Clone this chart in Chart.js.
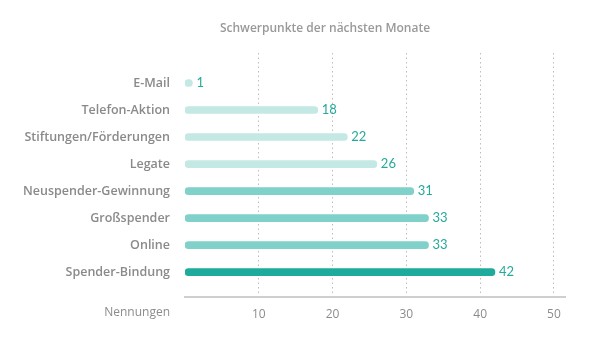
<!DOCTYPE html>
<html><head><meta charset="utf-8">
<script src="https://cdn.jsdelivr.net/npm/chart.js@4/dist/chart.umd.min.js"></script>
<style>html,body{margin:0;padding:0;background:#fff}#wrap{width:595px;height:343px;position:relative}</style>
</head><body><div id="wrap"><canvas id="c" width="595" height="343"></canvas></div>
<script>
const categories = ["E-Mail","Telefon-Aktion","Stiftungen/Förderungen","Legate","Neuspender-Gewinnung","Großspender","Online","Spender-Bindung"];
const values = [1,18,22,26,31,33,33,42];
const barColors = ["#c4e9e5","#c4e9e5","#c4e9e5","#c4e9e5","#7fd1c9","#7fd1c9","#7fd1c9","#1eab9c"];
const xTicks = [10,20,30,40,50];
const titleText = "Schwerpunkte der nächsten Monate";
const xAxisLabel = "Nennungen";

const points = values.map((v,i)=>({x:v,y:i}));

const extras = {
  id:'extras',
  afterDatasetsDraw(chart){
    const ctx = chart.ctx;
    const meta = chart.getDatasetMeta(0);
    ctx.save();
    ctx.fillStyle = "#25a99a";
    ctx.font = "13px Lato, 'Open Sans', sans-serif";
    ctx.textBaseline = "middle";
    ctx.textAlign = "left";
    meta.data.forEach((bar,i)=>{
      ctx.fillText(String(values[i]), bar.x + 4, bar.y);
    });
    ctx.fillStyle = "#999999";
    ctx.font = "600 12px 'Open Sans', sans-serif";
    ctx.textAlign = "center";
    ctx.fillText(titleText, 325, 29);
    ctx.fillStyle = "#8c8c8c";
    ctx.font = "12px 'Open Sans', sans-serif";
    ctx.textAlign = "right";
    ctx.fillText(xAxisLabel, 170, 313);
    ctx.restore();
  }
};

new Chart(document.getElementById('c'), {
  type:'bar',
  data:{ datasets:[{
    data: points,
    backgroundColor: barColors,
    barThickness: 7,
    borderRadius: 4,
    borderSkipped: false
  }]},
  options:{
    indexAxis:'y',
    responsive:false,
    animation:false,
    layout:{padding:{top:53,right:30,left:0,bottom:0}},
    plugins:{legend:{display:false},tooltip:{enabled:false},title:{display:false}},
    scales:{
      x:{
        type:'linear', min:0, max:51.5,
        afterBuildTicks(s){ s.ticks = xTicks.map(v=>({value:v})); },
        afterFit(s){ s.height = 46; },
        grid:{ color:"#bdbdbd", lineWidth:1, drawTicks:false },
        border:{ display:true, color:"#cfcfcf", width:2, dash:[1.5,3] },
        ticks:{ color:"#8c8c8c", padding:10, font:{family:"'Open Sans', sans-serif", size:12} }
      },
      y:{
        type:'linear', reverse:true, min:-1.11, max:7.92, offset:false,
        afterBuildTicks(s){ s.ticks = categories.map((c,i)=>({value:i})); },
        afterFit(s){ s.width = 185; },
        grid:{ display:false, drawTicks:false, offset:false },
        border:{ display:false },
        ticks:{ color:"#8a8a8a", padding:15, callback:(v)=>categories[v], font:{family:"'Open Sans', sans-serif", size:12.5, weight:'600'} }
      }
    }
  },
  plugins:[extras]
});
</script></body></html>
